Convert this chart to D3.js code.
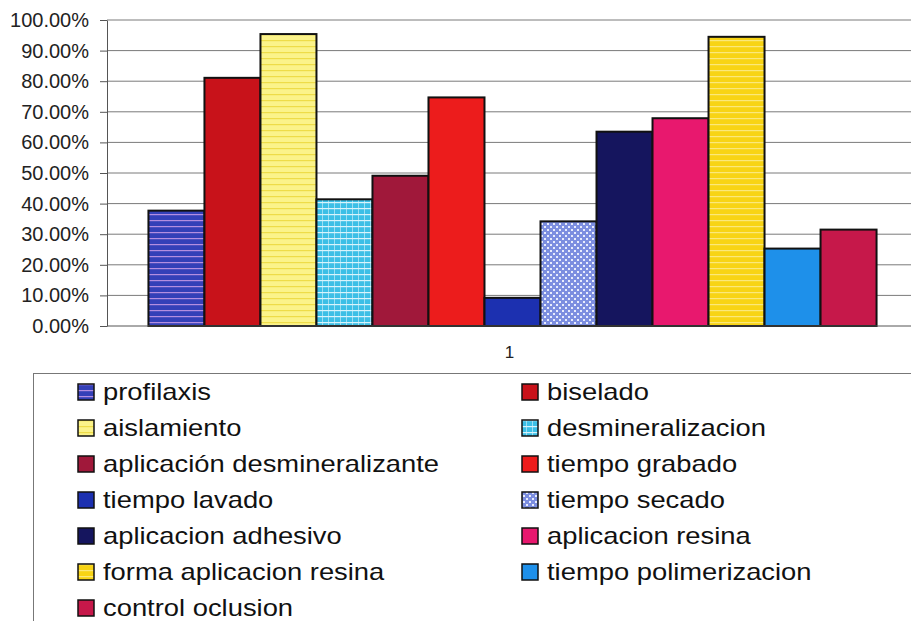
<!DOCTYPE html>
<html>
<head>
<meta charset="utf-8">
<script src="https://cdn.jsdelivr.net/npm/d3@7"></script>
<style>
  body { margin: 0; background: #fff; }
  svg { display: block; font-family: "Liberation Sans", Arial, sans-serif; }
  .yAxis text { font-size: 20px; fill: #222; }
  .yAxis path, .yAxis line { stroke: #555; }
</style>
</head>
<body>
<div class="chart"></div>
<script>
var category = ["1"],
    series = ["profilaxis", "biselado", "aislamiento", "desmineralizacion",
              "aplicación desmineralizante", "tiempo grabado", "tiempo lavado", "tiempo secado",
              "aplicacion adhesivo", "aplicacion resina", "forma aplicacion resina",
              "tiempo polimerizacion", "control oclusion"],
    values = [0.377, 0.811, 0.954, 0.414, 0.491, 0.747, 0.092, 0.342, 0.635, 0.679, 0.945, 0.253, 0.315],
    yTicks = [0, 0.1, 0.2, 0.3, 0.4, 0.5, 0.6, 0.7, 0.8, 0.9, 1.0];

var outerWidth = 911, outerHeight = 621,
    plot = {left: 107, top: 20, right: 918, bottom: 326};

// fill per series: base colour + optional texture
var fills = {
  "profilaxis": {base: "#3440b8", line: "#b48ee0", kind: "hlines"},
  "biselado": {base: "#c8121a"},
  "aislamiento": {base: "#fbf38a", line: "#eedc48", kind: "hlines"},
  "desmineralizacion": {base: "#3cbfe6", line: "#d8f4fc", kind: "grid"},
  "aplicación desmineralizante": {base: "#a0183a"},
  "tiempo grabado": {base: "#ec1c1c"},
  "tiempo lavado": {base: "#1c30b0"},
  "tiempo secado": {base: "#7c8ee0", line: "#e8ecfc", kind: "dots"},
  "aplicacion adhesivo": {base: "#15155e"},
  "aplicacion resina": {base: "#e8186e"},
  "forma aplicacion resina": {base: "#f8d414", line: "#fbe87a", kind: "hlines"},
  "tiempo polimerizacion": {base: "#1e90ea"},
  "control oclusion": {base: "#c6184a"}
};

var svg = d3.select(".chart").append("svg")
    .attr("width", outerWidth)
    .attr("height", outerHeight);

var defs = svg.append("defs");
series.forEach(function(s, i) {
  var f = fills[s];
  if (!f.kind) { f.url = f.base; return; }
  var p = defs.append("pattern")
      .attr("id", "pat" + i)
      .attr("patternUnits", "userSpaceOnUse")
      .attr("width", 6).attr("height", 6);
  p.append("rect").attr("width", 6).attr("height", 6).attr("fill", f.base);
  if (f.kind == "hlines") {
    p.append("rect").attr("y", 4).attr("width", 6).attr("height", 1.2).attr("fill", f.line);
  } else if (f.kind == "grid") {
    p.append("rect").attr("y", 4).attr("width", 6).attr("height", 1.2).attr("fill", f.line);
    p.append("rect").attr("x", 4).attr("width", 1).attr("height", 6).attr("fill", f.line).attr("opacity", 0.6);
  } else if (f.kind == "dots") {
    p.append("rect").attr("x", 1).attr("y", 1).attr("width", 2).attr("height", 2).attr("fill", f.line);
    p.append("rect").attr("x", 4).attr("y", 4).attr("width", 2).attr("height", 2).attr("fill", f.line);
  }
  f.url = "url(#pat" + i + ")";
});

var x0 = d3.scaleBand().domain(category).range([plot.left, plot.right]),
    x1 = d3.scaleBand().domain(series).range([0, x0.bandwidth()]).paddingInner(0).paddingOuter(0.74),
    yScale = d3.scaleLinear().domain([0, 1]).range([plot.bottom, plot.top]);

// gridlines
svg.append("g").attr("class", "grid")
  .selectAll("line")
  .data(yTicks.slice(1))
  .enter().append("line")
    .attr("x1", plot.left).attr("x2", outerWidth)
    .attr("y1", function(d) { return yScale(d); })
    .attr("y2", function(d) { return yScale(d); })
    .style("stroke", "#7a7a7a")
    .style("stroke-width", 1);

// bars
svg.append("g").attr("class", "bars")
  .selectAll("rect")
  .data(series)
  .enter().append("rect")
    .attr("x", function(d) { return x0("1") + x1(d); })
    .attr("y", function(d, i) { return yScale(values[i]); })
    .attr("width", x1.bandwidth())
    .attr("height", function(d, i) { return yScale(0) - yScale(values[i]); })
    .attr("fill", function(d) { return fills[d].url; })
    .style("stroke", "#111")
    .style("stroke-width", 2);

// axes
svg.append("g")
    .attr("class", "yAxis")
    .attr("transform", "translate(" + plot.left + ",0)")
    .call(d3.axisLeft(yScale).tickValues(yTicks).tickFormat(d3.format(".2%")).tickSize(7).tickPadding(11).tickSizeOuter(0));

svg.append("line")
    .attr("x1", plot.left).attr("x2", outerWidth)
    .attr("y1", yScale(0)).attr("y2", yScale(0))
    .style("stroke", "#555");

svg.append("text")
    .attr("x", x0("1") + x0.bandwidth() / 2 - 3)
    .attr("y", 358)
    .attr("text-anchor", "middle")
    .style("font-size", "17px")
    .style("fill", "#222")
    .text(category[0]);

// legend
svg.append("rect")
    .attr("x", 33.5).attr("y", 373.5)
    .attr("width", 960).attr("height", 300)
    .style("fill", "none")
    .style("stroke", "#777");

var legend = svg.append("g").attr("class", "legend")
  .selectAll("g")
  .data(series)
  .enter().append("g")
    .attr("transform", function(d, i) {
      var col = i % 2, row = Math.floor(i / 2);
      return "translate(" + (col ? 522 : 78) + "," + (392 + row * 36) + ")";
    });

legend.append("rect")
    .attr("x", 0).attr("y", -8)
    .attr("width", 16).attr("height", 16)
    .attr("fill", function(d) { return fills[d].url; })
    .style("stroke", "#111")
    .style("stroke-width", 1.5);

legend.append("text")
    .attr("transform", "translate(25,8) scale(1.19,1)")
    .style("font-size", "23px")
    .style("fill", "#111")
    .text(function(d) { return d; });
</script>
</body>
</html>
